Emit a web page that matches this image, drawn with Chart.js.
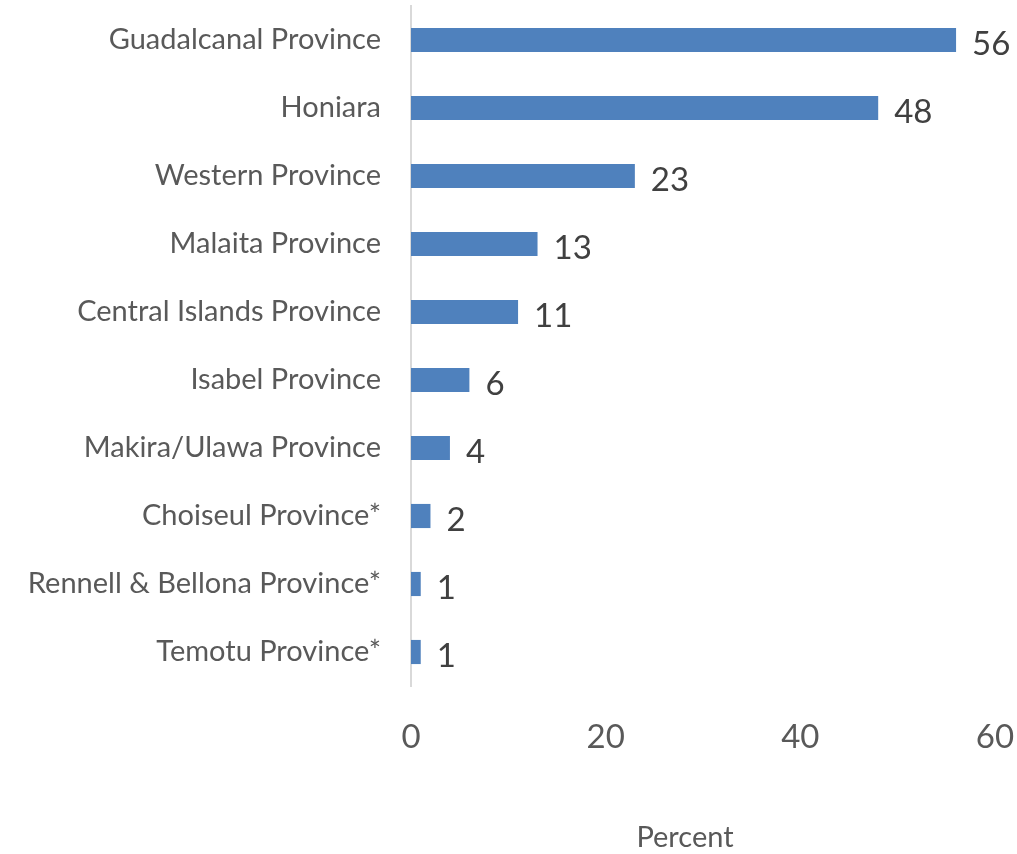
<!DOCTYPE html>
<html>
<head>
<meta charset="utf-8">
<script src="https://cdn.jsdelivr.net/npm/chart.js@4/dist/chart.umd.min.js"></script>
<style>
  html, body { margin: 0; padding: 0; background: #fff; }
  #wrap { width: 1017px; height: 854px; }
</style>
</head>
<body>
<div id="wrap"><canvas id="myChart" width="1017" height="854"></canvas></div>
<script>
// province shares, largest first
var provinces = [
    'Guadalcanal Province',
    'Honiara',
    'Western Province',
    'Malaita Province',
    'Central Islands Province',
    'Isabel Province',
    'Makira/Ulawa Province',
    'Choiseul Province*',
    'Rennell & Bellona Province*',
    'Temotu Province*'
];
var percents = [56, 48, 23, 13, 11, 6, 4, 2, 1, 1];
var xTicks = [0, 20, 40, 60];
var axisTitle = 'Percent';

var FONT = 'Lato, "Open Sans", sans-serif';

// writes the value just past the end of each bar
var barValues = {
    id: 'barValues',
    afterDatasetsDraw: function (chart) {
        var ctx = chart.ctx;
        var meta = chart.getDatasetMeta(0);
        ctx.save();
        ctx.font = '33px ' + FONT;
        ctx.fillStyle = '#404040';
        ctx.textAlign = 'left';
        ctx.textBaseline = 'middle';
        meta.data.forEach(function (bar, i) {
            ctx.fillText(String(percents[i]), bar.x + 16, bar.y + 4);
        });
        ctx.restore();
    }
};

// axis caption under the tick labels, a little left of centre
var axisCaption = {
    id: 'axisCaption',
    afterDraw: function (chart) {
        var ctx = chart.ctx;
        var area = chart.chartArea;
        ctx.save();
        ctx.font = '29px ' + FONT;
        ctx.fillStyle = '#595959';
        ctx.textAlign = 'center';
        ctx.textBaseline = 'middle';
        ctx.fillText(axisTitle, (area.left + area.right) / 2 - 18, 838);
        ctx.restore();
    }
};

var config = {
    type: 'bar',
    data: {
        labels: provinces,
        datasets: [{
            data: percents,
            backgroundColor: '#4f81bd',
            borderWidth: 0,
            categoryPercentage: 1,
            barPercentage: 0.355
        }]
    },
    options: {
        indexAxis: 'y',
        responsive: false,
        animation: false,
        layout: { padding: { top: 6, right: 22, bottom: 0, left: 0 } },
        plugins: {
            legend: { display: false },
            tooltip: { enabled: false }
        },
        scales: {
            x: {
                min: 0,
                max: 60,
                afterBuildTicks: function (s) {
                    s.ticks = xTicks.map(function (v) { return { value: v }; });
                },
                afterFit: function (s) {
                    s.height = 168;
                    s.paddingLeft = 0;
                    s.paddingRight = 0;
                },
                grid: { display: false, drawTicks: false },
                border: { display: false },
                ticks: {
                    padding: 32,
                    color: '#595959',
                    font: { family: FONT, size: 33 }
                }
            },
            y: {
                afterFit: function (s) {
                    s.width = 411;
                    s.paddingTop = 0;
                    s.paddingBottom = 0;
                },
                grid: { display: false, drawTicks: false },
                border: { display: true, color: '#d9d9d9', width: 2 },
                ticks: {
                    padding: 30,
                    color: '#595959',
                    font: { family: FONT, size: 29 }
                }
            }
        }
    },
    plugins: [barValues, axisCaption]
};

var lineGraph = new Chart(document.getElementById('myChart'), config);
</script>
</body>
</html>
